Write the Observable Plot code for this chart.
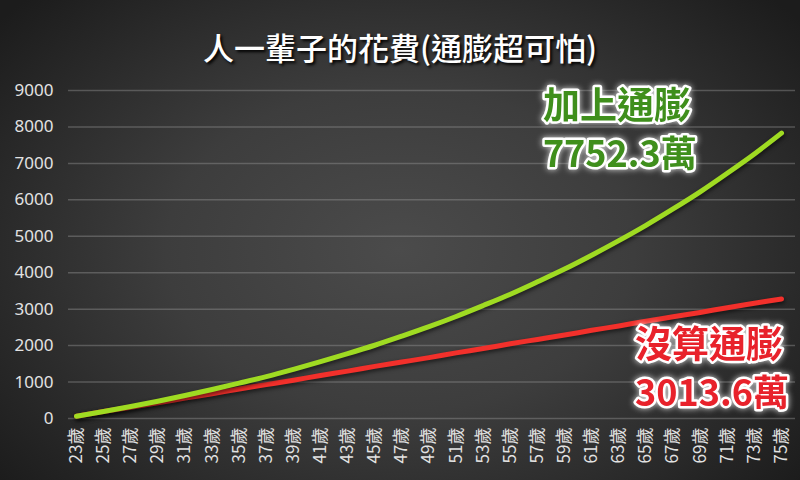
<!DOCTYPE html>
<html><head><meta charset="utf-8">
<script src="https://cdn.jsdelivr.net/npm/d3@7"></script>
<script src="https://cdn.jsdelivr.net/npm/@observablehq/plot@0.6"></script>
<style>
html,body{margin:0;padding:0;}
body{width:800px;height:480px;overflow:hidden;
  background:radial-gradient(ellipse 65% 75% at 50% 52%, #4b4b4b 0%, #3d3d3d 45%, #1c1c1c 100%);
  font-family:"Noto Sans CJK TC",sans-serif;}
#wrap{position:relative;width:800px;height:480px;}
#chart{position:absolute;left:0;top:0;}
#title{position:absolute;left:0;top:24px;width:800px;text-align:center;color:#fff;
  font-size:31px;font-weight:500;text-shadow:2px 2px 3px #000;font-family:"Noto Sans CJK TC",sans-serif;}
g[aria-label="line"] path{filter:drop-shadow(1px 2px 2px rgba(0,0,0,0.6));}
g.note text{filter:drop-shadow(0 0 3px rgba(255,255,255,0.8));}
</style></head>
<body><div id="wrap"><div id="chart"></div><div id="title">人一輩子的花費(通膨超可怕)</div></div>
<script>
// Ages (every two years, as labelled on the axis)
const ages = [23,25,27,29,31,33,35,37,39,41,43,45,47,49,51,53,55,57,59,61,63,65,67,69,71,73,75];
// 加上通膨 (with inflation), cumulative spending, 萬
const withInflation = [60,190,330,475,630,795,970,1150,1350,1560,1780,2010,2260,2520,2800,3100,3410,3750,4100,4480,4880,5300,5750,6220,6730,7260,7830];
// 沒算通膨 (no inflation), cumulative spending, 萬
const noInflation = [60,190,310,430,560,680,810,930,1050,1180,1300,1430,1550,1670,1800,1920,2050,2170,2290,2420,2540,2670,2790,2910,3040,3160,3280];
const yTicks = [0,1000,2000,3000,4000,5000,6000,7000,8000,9000];
const xTickSuffix = "歲";
const greenNote = ["加上通膨", "7752.3萬"];
const redNote = ["沒算通膨", "3013.6萬"];

const data = ages.map((a, i) => ({age: a, green: withInflation[i], red: noInflation[i]}));

const noteStyle = {
  x: "x", y: "y", text: "t", textAnchor: "start", lineAnchor: "middle",
  fontWeight: "bold", stroke: "white", strokeWidth: 5,
  paintOrder: "stroke", fontFamily: "'Noto Sans CJK TC', sans-serif", className: "note"
};

const plot = Plot.plot({
  width: 800, height: 480,
  marginLeft: 68, marginRight: 5, marginTop: 90, marginBottom: 62,
  style: {background: "transparent", color: "#e4e4e4", fontFamily: "'Noto Sans', sans-serif", overflow: "visible"},
  x: {domain: [23, 75], insetLeft: 8, insetRight: 14},
  y: {domain: [0, 9000]},
  marks: [
    Plot.gridY(yTicks, {stroke: "#9a9a9a", strokeOpacity: 0.4, strokeWidth: 1.5}),
    Plot.axisY(yTicks, {tickSize: 0, tickPadding: 15, fontSize: 17, fill: "#e2e2e2", label: null, tickFormat: d => String(d)}),
    Plot.axisX(ages, {tickSize: 0, tickPadding: 9, tickRotate: -90, fontSize: 17, fill: "#e2e2e2",
      tickFormat: d => d + xTickSuffix, label: null, fontFamily: "'Noto Sans CJK TC', sans-serif"}),
    Plot.line(data, {x: "age", y: "red", stroke: "#f2302b", strokeWidth: 5, curve: "monotone-x", strokeLinecap: "round"}),
    Plot.line(data, {x: "age", y: "green", stroke: "#9fdb22", strokeWidth: 5, curve: "monotone-x", strokeLinecap: "round"}),
    Plot.text([{x: 57.4, y: 8535, t: greenNote[0]}], {...noteStyle, fontSize: 37, fill: "#3f8f1c"}),
    Plot.text([{x: 57.4, y: 7217, t: greenNote[1]}], {...noteStyle, fontSize: 36, fill: "#3f8f1c"}),
    Plot.text([{x: 64.2, y: 1976, t: redNote[0]}], {...noteStyle, fontSize: 37, fill: "#e8222b"}),
    Plot.text([{x: 64.2, y: 659, t: redNote[1]}], {...noteStyle, fontSize: 36, fill: "#e8222b"})
  ]
});
document.getElementById("chart").appendChild(plot);
</script>
</body></html>
